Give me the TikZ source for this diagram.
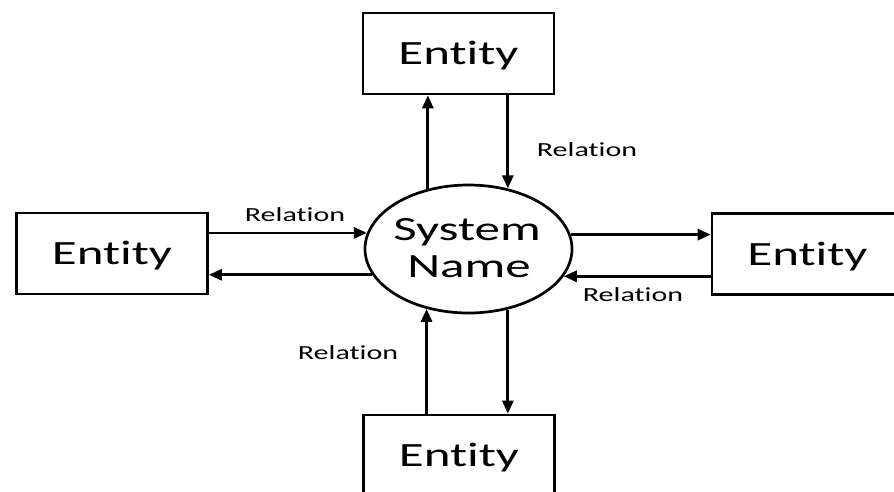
\documentclass[tikz,border=0pt]{standalone}
\usepackage{fontspec}
\setmainfont{Carlito}[Ligatures=NoCommon]
\usetikzlibrary{arrows.meta,shapes.geometric}
% horizontally widened lettering
\newcommand{\widetext}[1]{\scalebox{1.5}[1]{#1}}
\begin{document}
\begin{tikzpicture}[x=1pt,y=-1pt,
  entity/.style={draw,line width=2.7pt,minimum width=191pt,minimum height=81pt,
    inner sep=0pt,text height=22pt,text depth=0pt,font=\fontsize{34}{37}\selectfont},
  sysellipse/.style={draw,ellipse,line width=2.7pt,minimum width=207pt,
    minimum height=128pt,inner sep=0pt},
  systext/.style={anchor=base,inner sep=0pt,font=\fontsize{34}{37}\selectfont},
  flow/.style={line width=2.8pt,-{Triangle[length=13pt,width=11pt]}},
  rel/.style={inner sep=0pt,font=\fontsize{20}{24}\selectfont}]
\useasboundingbox (0,0) rectangle (894,492);
\clip (0,0) rectangle (894,492);

% central process
\node[sysellipse] (sys) at (468.5,249) {};
\node[systext] (sysA) at (467,240) {\widetext{System}};
\node[systext] (sysB) at (469,277) {\widetext{Name}};

% external entities
\node[entity] (top)    at (458.5,53.5)  {\widetext{Entity}};
\node[entity] (left)   at (112,253.5)   {\widetext{Entity}};
\node[entity] (right)  at (807.5,254)   {\widetext{Entity}};
\node[entity] (bottom) at (459,455.5)   {\widetext{Entity}};

% data flows
\draw[flow] (sys.124.5) -- (sys.124.5 |- top.south);
\draw[flow] (sys.57 |- top.south) -- (sys.57);
\draw[flow] (left.east |- sys.171.5) -- (sys.171.5);
\draw[flow] (sys.195.4) -- (sys.195.4 -| left.east);
\draw[flow] (sys.8.5) -- (sys.8.5 -| right.west);
\draw[flow] (right.west |- sys.344.6) -- (sys.344.6);
\draw[flow] (sys.235.5 |- bottom.north) -- (sys.235.5);
\draw[flow] (sys.303) -- (sys.303 |- bottom.north);

% flow labels
\node[rel] (relT) at (587,150) {\widetext{Relation}};
\node[rel] (relL) at (295,215) {\widetext{Relation}};
\node[rel] (relR) at (633,295) {\widetext{Relation}};
\node[rel] (relB) at (348,353) {\widetext{Relation}};
\end{tikzpicture}
\end{document}
